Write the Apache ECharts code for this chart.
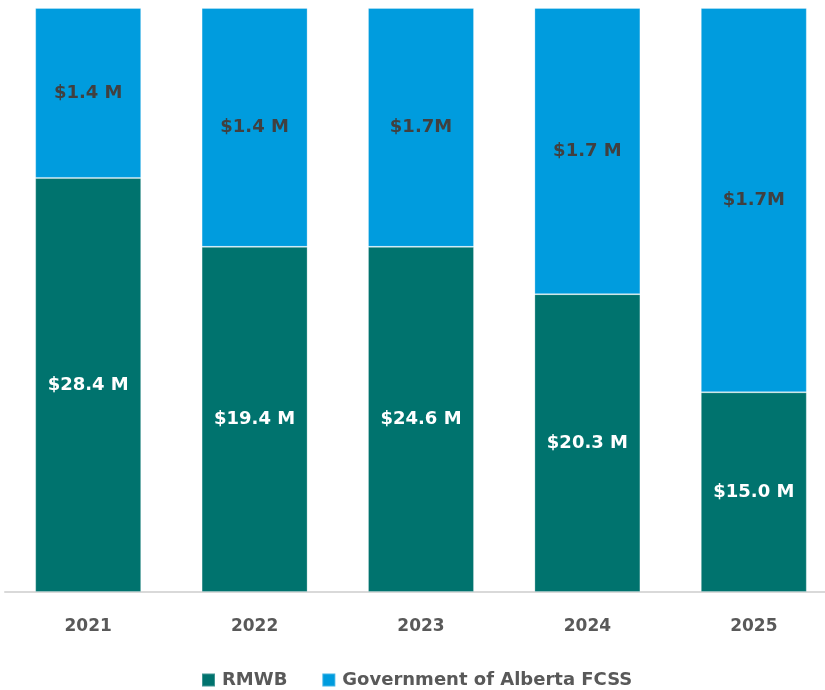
<!DOCTYPE html>
<html>
<head>
<meta charset="utf-8">
<script src="https://cdn.jsdelivr.net/npm/echarts@6/dist/echarts.min.js"></script>
<style>
  html, body { margin: 0; padding: 0; background: #fff; overflow: hidden; }
  /* plot runs a little past the right edge, as in the source image */
  #main { width: 842px; height: 690px; }
</style>
</head>
<body>
<div id="main"></div>
<script>
  // years on the x axis
  var years = ['2021', '2022', '2023', '2024', '2025'];
  // bar shares (%), the bars fill 100%
  var rmwbShare = [70.9, 59.1, 59.1, 51.0, 34.2];
  var fcssShare = [29.1, 40.9, 40.9, 49.0, 65.8];
  // label texts as printed on the chart
  var rmwbLabels = ['$28.4 M', '$19.4 M', '$24.6 M', '$20.3 M', '$15.0 M'];
  var fcssLabels = ['$1.4 M', '$1.4 M', '$1.7M', '$1.7 M', '$1.7M'];

  var chart = echarts.init(document.getElementById('main'));
  var font = '"DejaVu Sans", Verdana, sans-serif';

  chart.setOption({
    animation: false,
    grid: { left: 5, right: 5, top: 8, bottom: 98, containLabel: false },
    legend: {
      top: 666,
      left: 196,
      itemWidth: 13,
      itemHeight: 13,
      itemGap: 34,
      icon: 'rect',
      textStyle: { color: '#595959', fontSize: 18, fontWeight: 'bold', fontFamily: font, padding: [0, 0, 0, 2] },
      data: ['RMWB', 'Government of Alberta FCSS']
    },
    xAxis: {
      type: 'category',
      data: years,
      axisTick: { show: false },
      axisLine: { lineStyle: { color: '#d9d9d9', width: 2 } },
      axisLabel: { color: '#595959', fontSize: 17, fontWeight: 'bold', fontFamily: font, margin: 26 }
    },
    yAxis: {
      type: 'value',
      min: 0,
      max: 100,
      show: false,
      splitLine: { show: false }
    },
    series: [{
      name: 'RMWB',
      type: 'bar',
      stack: 'total',
      barWidth: 106,
      data: rmwbShare,
      itemStyle: { color: '#00736e', borderColor: 'rgba(255,255,255,0.25)', borderWidth: 1 },
      label: {
        show: true,
        position: 'inside',
        color: '#ffffff',
        fontSize: 18,
        fontWeight: 'bold',
        fontFamily: font,
        formatter: function (p) { return rmwbLabels[p.dataIndex]; }
      }
    }, {
      name: 'Government of Alberta FCSS',
      type: 'bar',
      stack: 'total',
      barWidth: 106,
      data: fcssShare,
      itemStyle: { color: '#009cde', borderColor: 'rgba(255,255,255,0.25)', borderWidth: 1 },
      label: {
        show: true,
        position: 'inside',
        color: '#404040',
        fontSize: 18,
        fontWeight: 'bold',
        fontFamily: font,
        formatter: function (p) { return fcssLabels[p.dataIndex]; }
      }
    }]
  });
</script>
</body>
</html>
